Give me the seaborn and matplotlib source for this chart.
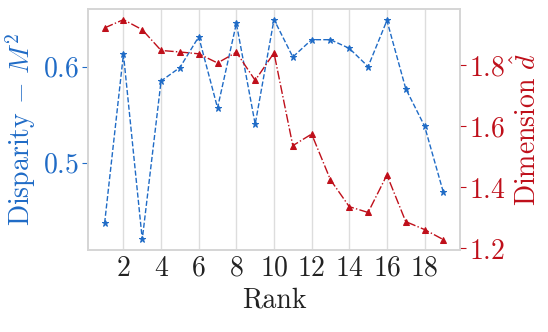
import numpy as np
import pandas as pd
import matplotlib
matplotlib.use("Agg")
import matplotlib.pyplot as plt
import seaborn as sns

rank = list(range(1, 20))
disparity = [0.437, 0.613, 0.420, 0.585, 0.599, 0.631, 0.557, 0.645, 0.540, 0.649,
             0.610, 0.628, 0.628, 0.619, 0.600, 0.648, 0.577, 0.538, 0.469]
dimension = [1.923, 1.950, 1.917, 1.849, 1.844, 1.838, 1.808, 1.843, 1.751, 1.841,
             1.537, 1.575, 1.425, 1.337, 1.318, 1.441, 1.288, 1.262, 1.229]
xticks = [2, 4, 6, 8, 10, 12, 14, 16, 18]

BLUE = "#1f6bc6"
RED = "#bf0f1a"

sns.set_theme(style="whitegrid")
plt.rcParams["font.family"] = ["cmr10", "DejaVu Serif"]
plt.rcParams["mathtext.fontset"] = "cm"
plt.rcParams["axes.formatter.use_mathtext"] = True
plt.rcParams["axes.unicode_minus"] = False

df = pd.DataFrame({"Rank": rank, "Disparity": disparity, "Dimension": dimension})

fig, ax = plt.subplots(figsize=(5.48, 3.32), dpi=100)
sns.lineplot(data=df, x="Rank", y="Disparity", ax=ax, color=BLUE, linestyle="--",
             marker="*", markersize=5, markeredgecolor=BLUE, linewidth=1.0)
ax2 = ax.twinx()
sns.lineplot(data=df, x="Rank", y="Dimension", ax=ax2, color=RED, linestyle="-.",
             marker="^", markersize=5, markeredgecolor=RED, linewidth=1.0)

ax.set_ylim(0.409, 0.660)
ax2.set_ylim(1.195, 1.985)
ax.set_xticks(xticks)
ax.set_yticks([0.5, 0.6])
ax2.set_yticks([1.2, 1.4, 1.6, 1.8])
ax.grid(axis="y", visible=False)
ax2.grid(False)
ax.grid(axis="x", color="#dddddd", linewidth=1.0)

fs = 20
ax.set_xlabel("Rank", fontsize=fs, color="#222222")
ax.set_ylabel(r"Disparity $-\ M^2$", fontsize=fs, color=BLUE, labelpad=4)
ax2.set_ylabel(r"Dimension $\hat{d}$", fontsize=fs, color=RED, labelpad=4)
ax.tick_params(axis="x", labelsize=fs, colors="#222222", length=0, pad=4)
ax.tick_params(axis="y", labelsize=fs, colors=BLUE, length=4, width=0.8, left=True, pad=2)
ax2.tick_params(axis="y", labelsize=fs, colors=RED, length=4, width=0.8, right=True, pad=2)
for a in (ax, ax2):
    for s in a.spines.values():
        s.set_color("#d5d5d5")
        s.set_linewidth(1.2)

fig.subplots_adjust(left=0.16, right=0.84, top=0.973, bottom=0.247)
fig.savefig("out.png", dpi=100)
